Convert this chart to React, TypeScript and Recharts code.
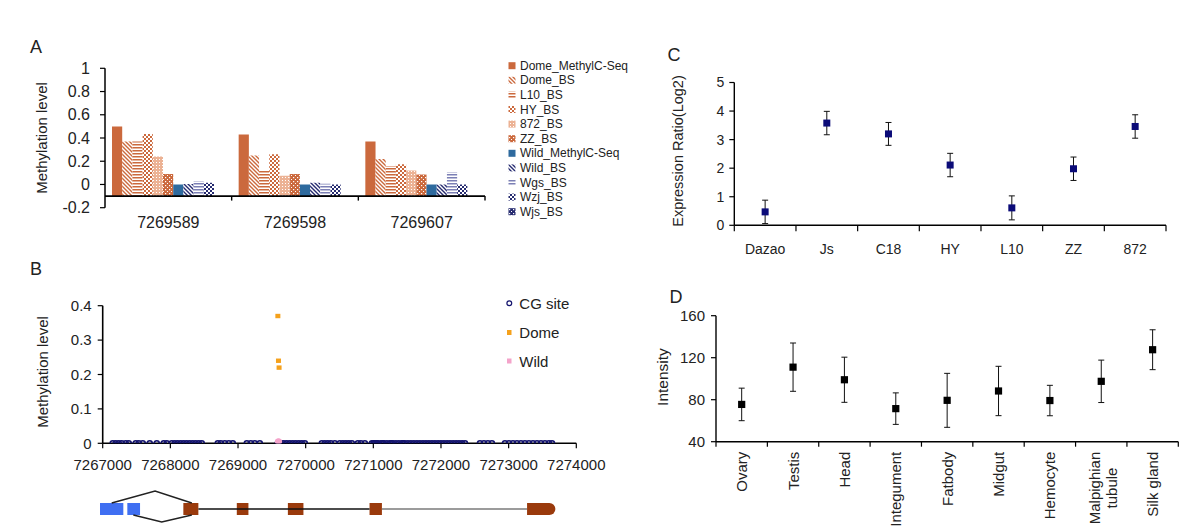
import React from 'react';
import {
  BarChart, Bar, XAxis, YAxis, ReferenceLine, ReferenceArea,
  ScatterChart, Scatter, ComposedChart, Line, ErrorBar,
} from 'recharts';

const FONT = '"Liberation Sans", Arial, Helvetica, sans-serif';
const TXT = '#222';
const ORANGE = '#CB693D';
const BLUE = '#2E6A9E';
const NAVY = '#262B70';
const CG_NAVY = '#14146E';
const BROWN = '#9A3A0C';
const EXON_BLUE = '#3F6FF2';

// ---------------- Panel A ----------------
const sitesA = ['7269589', '7269598', '7269607'];
const seriesNamesA = ['Dome_MethylC-Seq', 'Dome_BS', 'L10_BS', 'HY_BS', '872_BS', 'ZZ_BS', 'Wild_MethylC-Seq', 'Wild_BS', 'Wgs_BS', 'Wzj_BS', 'Wjs_BS'];
const domeMethylC = [0.5, 0.43, 0.37];
const domeBS = [0.37, 0.25, 0.22];
const l10BS = [0.37, 0.12, 0.16];
const hyBS = [0.435, 0.26, 0.175];
const bs872 = [0.24, 0.075, 0.12];
const zzBS = [0.09, 0.09, 0.085];
const wildMethylC = [0, 0, 0];
const wildBS = [0.005, 0.015, 0];
const wgsBS = [0.028, 0.006, 0.105];
const wzjBS = [0.014, 0, 0];
const wjsBS: (number | null)[] = [null, null, null];
const seriesValuesA = [domeMethylC, domeBS, l10BS, hyBS, bs872, zzBS, wildMethylC, wildBS, wgsBS, wzjBS, wjsBS];
const fillsA = [ORANGE, 'url(#pDomeBS)', 'url(#pL10)', 'url(#pHY)', 'url(#p872)', 'url(#pZZ)', BLUE, 'url(#pWildBS)', 'url(#pWgs)', 'url(#pWzj)', 'url(#pWjs)'];
const yTicksA = [-0.2, 0, 0.2, 0.4, 0.6, 0.8, 1];
const AXIS_CROSS_A = -0.1;
const rowsA = sitesA.map((site, i) => {
  const row: any = { site };
  seriesValuesA.forEach((vals, s) => { row['s' + s] = vals[i]; });
  return row;
});

// ---------------- Panel B ----------------
const cgSites = [
  7267148, 7267192, 7267237, 7267281, 7267340, 7267385,
  7267488, 7267533, 7267592,
  7267695, 7267799,
  7267902, 7267947,
  7268021, 7268065, 7268109, 7268154, 7268198, 7268242, 7268287, 7268331, 7268375, 7268420, 7268464,
  7268701, 7268745, 7268805, 7268864, 7268923,
  7269130, 7269189, 7269248, 7269322,
  7269589, 7269598, 7269607,
  7269633, 7269677, 7269721, 7269766, 7269810, 7269854, 7269899, 7269943, 7269988,
  7270239, 7270283, 7270328, 7270372, 7270431,
  7270505, 7270550, 7270594, 7270638, 7270683,
  7270771, 7270816, 7270875,
  7270979, 7271005, 7271023, 7271050, 7271068, 7271112, 7271140, 7271156, 7271201, 7271245,
  7271270, 7271290, 7271334, 7271378, 7271423, 7271440, 7271467, 7271512, 7271556, 7271600,
  7271645, 7271689, 7271734, 7271778, 7271822, 7271867, 7271911, 7271956, 7272000, 7272044,
  7272089, 7272133, 7272178, 7272222, 7272266, 7272311, 7272355,
  7272576, 7272635, 7272694, 7272753,
  7272946, 7273005, 7273064, 7273123, 7273182, 7273241, 7273300, 7273360, 7273419, 7273478,
  7273537, 7273596, 7273641,
];
const methSites = [7269589, 7269598, 7269607];
const domeLevels = [0.37, 0.24, 0.22];
const wildLevels = [0.005, 0.005, 0.005];
const ticksB = [7267000, 7268000, 7269000, 7270000, 7271000, 7272000, 7273000, 7274000];
const yTicksB = [0, 0.1, 0.2, 0.3, 0.4];

// gene model (genomic coordinates, track levels)
const exonStarts = [7266960, 7267364, 7268192, 7268982, 7269737, 7270944, 7273272];
const exonEnds = [7267305, 7267552, 7268414, 7269154, 7269967, 7271127, 7273691];
const exonColors = [EXON_BLUE, EXON_BLUE, BROWN, BROWN, BROWN, BROWN, BROWN];
const EXON_LOW = 10;
const EXON_HIGH = 22;
const EXON_MID = 16;
const caretPts = [{ x: 7267133, y: 22 }, { x: 7267774, y: 34 }, { x: 7268317, y: 22 }];
const veePts = [{ x: 7267453, y: 10 }, { x: 7267873, y: 3 }, { x: 7268317, y: 10 }];

// ---------------- Panel C ----------------
const strainsC = ['Dazao', 'Js', 'C18', 'HY', 'L10', 'ZZ', '872'];
const exprC = [0.47, 3.58, 3.2, 2.11, 0.61, 1.98, 3.46];
const exprErrC = [0.41, 0.41, 0.4, 0.41, 0.42, 0.41, 0.41];
const rowsC = strainsC.map((name, i) => ({ name, pos: i + 0.5, value: exprC[i], err: exprErrC[i] }));

// ---------------- Panel D ----------------
const tissuesD = ['Ovary', 'Testis', 'Head', 'Integument', 'Fatbody', 'Midgut', 'Hemocyte', 'Malpighian tubule', 'Silk gland'];
const intensityD = [75.5, 111, 99, 71.5, 79.4, 88.3, 79.2, 97.5, 127.6];
const intensityErrD = [15.5, 23, 21.5, 15, 25.7, 23.5, 14.5, 20.2, 19];
const rowsD = tissuesD.map((name, i) => ({ name, pos: i + 0.5, value: intensityD[i], err: intensityErrD[i] }));

// ---------------- geometry ----------------
const A = { l: 105, r: 485, t: 68.3, b: 207.7 };
const B = { l: 102.7, r: 576.3, t: 305.7, b: 443.3 };
const G = { t: 485, b: 525 };
const C = { l: 734.3, r: 1166, t: 82.5, b: 225.3 };
const D = { l: 716, r: 1178.3, t: 315.7, b: 441.7 };
const W = 1200;
const H = 529;
const bandA = (A.r - A.l) / sitesA.length;
const bandC = (C.r - C.l) / strainsC.length;
const bandD = (D.r - D.l) / tissuesD.length;
const crossPxA = A.b - ((AXIS_CROSS_A - yTicksA[0]) / (yTicksA[yTicksA.length - 1] - yTicksA[0])) * (A.b - A.t);

function measureText(text: string, font: string): number {
  try {
    const ctx = document.createElement('canvas').getContext('2d');
    if (ctx) { ctx.font = font; return ctx.measureText(text).width; }
  } catch (e) { /* ignore */ }
  return text.length * 8;
}

function ATick(props: any) {
  const { x, y, payload } = props;
  const bx = x + bandA / 2;
  return (
    <g>
      <line x1={bx} x2={bx} y1={crossPxA} y2={crossPxA + 4.5} stroke="#000" strokeWidth={1.4} />
      <text x={x} y={y} dy="0.71em" textAnchor="middle" fontSize={16} fill={TXT} fontFamily={FONT}>{payload.value}</text>
    </g>
  );
}

function CTick(props: any) {
  const { x, y, payload } = props;
  const i = payload.value;
  if (i >= strainsC.length) return <g />;
  return (
    <text x={x + bandC / 2} y={y} dy="0.71em" textAnchor="middle" fontSize={14} fill={TXT} fontFamily={FONT}>
      {strainsC[i]}
    </text>
  );
}

function DTick(props: any) {
  const { x, y, payload } = props;
  const i = payload.value;
  if (i >= tissuesD.length) return <g />;
  const cx = x + bandD / 2;
  const label = tissuesD[i];
  const fs = 15;
  if (label.length > 12) {
    const parts = label.split(' ');
    const w = measureText(parts[0], `${fs}px ${FONT}`);
    return (
      <g>
        <text x={cx - 6.5} y={y} transform={`rotate(-90, ${cx - 6.5}, ${y})`} textAnchor="end" dominantBaseline="central" fontSize={fs} fill={TXT} fontFamily={FONT}>{parts[0]}</text>
        <text x={cx + 10.5} y={y + w / 2} transform={`rotate(-90, ${cx + 10.5}, ${y + w / 2})`} textAnchor="middle" dominantBaseline="central" fontSize={fs} fill={TXT} fontFamily={FONT}>{parts.slice(1).join(' ')}</text>
      </g>
    );
  }
  return (
    <text x={cx} y={y} transform={`rotate(-90, ${cx}, ${y})`} textAnchor="end" dominantBaseline="central" fontSize={fs} fill={TXT} fontFamily={FONT}>{label}</text>
  );
}

function PatternDefs() {
  return (
    <defs>
      <pattern id="pDomeBS" patternUnits="userSpaceOnUse" width={4} height={4}>
        <rect width={4} height={4} fill="#fff" />
        <path d="M0,0 L4,4 M-1,3 L1,5 M3,-1 L5,1" stroke={ORANGE} strokeWidth={1.4} />
      </pattern>
      <pattern id="pL10" patternUnits="userSpaceOnUse" width={3} height={3}>
        <rect width={3} height={3} fill="#fff" />
        <rect width={3} height={1.5} fill={ORANGE} />
      </pattern>
      <pattern id="pHY" patternUnits="userSpaceOnUse" width={4} height={4}>
        <rect width={4} height={4} fill={ORANGE} />
        <rect x={0} y={0} width={2} height={2} fill="#fff" />
        <rect x={2} y={2} width={2} height={2} fill="#fff" />
      </pattern>
      <pattern id="p872" patternUnits="userSpaceOnUse" width={3} height={3}>
        <rect width={3} height={3} fill="#ECB294" />
        <rect x={0} y={0} width={1} height={1} fill="#fff" />
      </pattern>
      <pattern id="pZZ" patternUnits="userSpaceOnUse" width={4} height={4}>
        <rect width={4} height={4} fill={ORANGE} />
        <rect x={1} y={1} width={1.2} height={1.2} fill="#fff" />
        <rect x={3} y={3} width={1.2} height={1.2} fill="#fff" />
      </pattern>
      <pattern id="pWildBS" patternUnits="userSpaceOnUse" width={4} height={4}>
        <rect width={4} height={4} fill="#fff" />
        <path d="M0,0 L4,4 M-1,3 L1,5 M3,-1 L5,1" stroke={NAVY} strokeWidth={1.4} />
      </pattern>
      <pattern id="pWgs" patternUnits="userSpaceOnUse" width={3} height={3}>
        <rect width={3} height={3} fill="#fff" />
        <rect width={3} height={1.5} fill="#7B7FB5" />
      </pattern>
      <pattern id="pWzj" patternUnits="userSpaceOnUse" width={4} height={4}>
        <rect width={4} height={4} fill="#fff" />
        <rect x={0} y={0} width={2} height={2} fill={NAVY} />
        <rect x={2} y={2} width={2} height={2} fill={NAVY} />
      </pattern>
      <pattern id="pWjs" patternUnits="userSpaceOnUse" width={4} height={4}>
        <rect width={4} height={4} fill={NAVY} />
        <rect x={1} y={1} width={1.2} height={1.2} fill="#fff" />
        <rect x={3} y={3} width={1.2} height={1.2} fill="#fff" />
      </pattern>
    </defs>
  );
}

const layer: React.CSSProperties = { position: 'absolute', left: 0, top: 0 };

function PanelA() {
  return (
    <div style={layer}>
      <BarChart width={W} height={H} data={rowsA} barGap={0} barSize={10.2}
        margin={{ top: A.t, right: W - A.r, bottom: H - A.b - 30, left: A.l - 60 }}
        style={{ fontFamily: FONT }}>
        <XAxis dataKey="site" axisLine={false} tickLine={false} tickSize={0} tickMargin={9} height={30} interval={0}
          tick={<ATick />} />
        <YAxis type="number" domain={[yTicksA[0], yTicksA[yTicksA.length - 1]]} ticks={yTicksA} width={60} tickSize={5} tickMargin={10}
          axisLine={{ stroke: '#000', strokeWidth: 1.5 }} tickLine={{ stroke: '#000', strokeWidth: 1.2 }}
          tick={{ fontSize: 16, fill: TXT, fontFamily: FONT }} interval={0} allowDataOverflow />
        {seriesValuesA.map((_, s) => (
          <Bar key={s} name={seriesNamesA[s]} fill={fillsA[s]} isAnimationActive={false}
            dataKey={(d: any) => (d['s' + s] == null ? null : [AXIS_CROSS_A, d['s' + s]])} />
        ))}
        <ReferenceLine y={AXIS_CROSS_A} stroke="#000" strokeWidth={1.6} />
      </BarChart>
    </div>
  );
}

const cgRows = cgSites.map((x) => ({ x, y: 0 }));
const domeRows = methSites.map((x, i) => ({ x, y: domeLevels[i] }));
const wildRows = methSites.map((x, i) => ({ x, y: wildLevels[i] }));

function PanelB() {
  return (
    <div style={layer}>
      <ScatterChart width={W} height={H}
        margin={{ top: B.t, right: W - B.r, bottom: H - B.b - 30, left: B.l - 60 }}
        style={{ fontFamily: FONT }}>
        <XAxis type="number" dataKey="x" domain={[ticksB[0], ticksB[ticksB.length - 1]]} ticks={ticksB} interval={0}
          height={30} tickSize={5} tickMargin={11} allowDataOverflow
          axisLine={{ stroke: '#000', strokeWidth: 1.6 }} tickLine={{ stroke: '#000', strokeWidth: 1.2 }}
          tick={{ fontSize: 15, fill: TXT, fontFamily: FONT }} />
        <YAxis type="number" dataKey="y" domain={[0, 0.4]} ticks={yTicksB} interval={0} width={60}
          tickSize={5} tickMargin={6} allowDataOverflow
          axisLine={{ stroke: '#000', strokeWidth: 1.6 }} tickLine={{ stroke: '#000', strokeWidth: 1.2 }}
          tick={{ fontSize: 15, fill: TXT, fontFamily: FONT }} />
        <Scatter data={cgRows} isAnimationActive={false}
          shape={(p: any) => <circle cx={p.cx} cy={p.cy} r={2.5} fill="none" stroke={CG_NAVY} strokeWidth={1.6} />} />
        <Scatter data={domeRows} isAnimationActive={false}
          shape={(p: any) => <rect x={p.cx - 2.5} y={p.cy - 2.2} width={5} height={4.4} fill="#F5A11C" />} />
        <Scatter data={wildRows} isAnimationActive={false}
          shape={(p: any) => <circle cx={p.cx} cy={p.cy} r={3} fill="#F4A3CA" />} />
      </ScatterChart>
    </div>
  );
}

const exonRows = exonStarts.map((x) => ({ x, y: EXON_MID }));

function roundedEnd(color: string) {
  return (p: any) => {
    const { x, y, width, height } = p;
    const r = height / 2;
    return (
      <path d={`M${x},${y} H${x + width - r} A${r},${r} 0 0 1 ${x + width - r},${y + height} H${x} Z`} fill={color} />
    );
  };
}

const noShape = () => <g />;

function GeneModel() {
  const last = exonStarts.length - 1;
  return (
    <div style={layer}>
      <ComposedChart width={W} height={H} data={exonRows}
        margin={{ top: G.t, right: W - B.r, bottom: H - G.b, left: B.l }}>
        <XAxis type="number" dataKey="x" domain={[ticksB[0], ticksB[ticksB.length - 1]]} hide allowDataOverflow />
        <YAxis type="number" dataKey="y" domain={[0, 40]} hide allowDataOverflow />
        <Scatter dataKey="y" isAnimationActive={false} shape={noShape} />
        <ReferenceLine segment={[{ x: exonEnds[2], y: EXON_MID }, { x: exonStarts[5], y: EXON_MID }]}
          stroke="#111" strokeWidth={1.4} ifOverflow="visible" />
        <ReferenceLine segment={[{ x: exonEnds[5], y: EXON_MID }, { x: exonStarts[6], y: EXON_MID }]}
          stroke="#7a7a7a" strokeWidth={1.4} ifOverflow="visible" />
        <Scatter data={caretPts} dataKey="y" isAnimationActive={false} shape={noShape}
          line={{ stroke: '#222', strokeWidth: 1.6 }} lineJointType="linear" />
        <Scatter data={veePts} dataKey="y" isAnimationActive={false} shape={noShape}
          line={{ stroke: '#222', strokeWidth: 1.6 }} lineJointType="linear" />
        {exonStarts.map((s, i) => (
          <ReferenceArea key={i} x1={s} x2={exonEnds[i]} y1={EXON_LOW} y2={EXON_HIGH}
            fill={exonColors[i]} fillOpacity={1} stroke="none" ifOverflow="visible"
            shape={i === last ? roundedEnd(exonColors[i]) : undefined} />
        ))}
      </ComposedChart>
    </div>
  );
}

function PanelC() {
  return (
    <div style={layer}>
      <ComposedChart width={W} height={H} data={rowsC}
        margin={{ top: C.t, right: W - C.r, bottom: H - C.b - 30, left: C.l - 60 }}>
        <XAxis type="number" dataKey="pos" domain={[0, strainsC.length]} ticks={strainsC.map((_, i) => i).concat([strainsC.length])}
          interval={0} height={30} tickSize={6} tickMargin={13} tick={<CTick />}
          axisLine={{ stroke: '#000', strokeWidth: 1.4 }} tickLine={{ stroke: '#000', strokeWidth: 1.2 }} />
        <YAxis type="number" domain={[0, 5]} ticks={[0, 1, 2, 3, 4, 5]} interval={0} width={60}
          tickSize={5} tickMargin={5}
          axisLine={{ stroke: '#000', strokeWidth: 1.4 }} tickLine={{ stroke: '#000', strokeWidth: 1.2 }}
          tick={{ fontSize: 14, fill: TXT, fontFamily: FONT }} />
        <Line dataKey="value" stroke="none" isAnimationActive={false} activeDot={false}
          dot={(p: any) => <rect key={p.index} x={p.cx - 3.5} y={p.cy - 3.5} width={7} height={7} fill="#0B0B78" />}>
          <ErrorBar dataKey="err" width={3} stroke="#111" strokeWidth={1} direction="y" isAnimationActive={false} />
        </Line>
      </ComposedChart>
    </div>
  );
}

function PanelD() {
  return (
    <div style={layer}>
      <ComposedChart width={W} height={H} data={rowsD}
        margin={{ top: D.t, right: W - D.r, bottom: H - D.b - 30, left: D.l - 60 }}>
        <XAxis type="number" dataKey="pos" domain={[0, tissuesD.length]} ticks={tissuesD.map((_, i) => i).concat([tissuesD.length])}
          interval={0} height={30} tickSize={5} tickMargin={5} tick={<DTick />}
          axisLine={{ stroke: '#000', strokeWidth: 1.4 }} tickLine={{ stroke: '#000', strokeWidth: 1.2 }} />
        <YAxis type="number" domain={[40, 160]} ticks={[40, 80, 120, 160]} interval={0} width={60}
          tickSize={5} tickMargin={6}
          axisLine={{ stroke: '#000', strokeWidth: 1.4 }} tickLine={{ stroke: '#000', strokeWidth: 1.2 }}
          tick={{ fontSize: 15, fill: TXT, fontFamily: FONT }} />
        <Line dataKey="value" stroke="none" isAnimationActive={false} activeDot={false}
          dot={(p: any) => <rect key={p.index} x={p.cx - 3.6} y={p.cy - 3.6} width={7.2} height={7.2} fill="#000" />}>
          <ErrorBar dataKey="err" width={3} stroke="#111" strokeWidth={1} direction="y" isAnimationActive={false} />
        </Line>
      </ComposedChart>
    </div>
  );
}

function Overlay() {
  const t = { fontFamily: FONT, fill: TXT } as any;
  return (
    <svg width={W} height={H} style={{ ...layer, pointerEvents: 'none' }}>
      <PatternDefs />
      {/* panel letters */}
      <text x={36} y={47} fontSize={18} textAnchor="middle" dominantBaseline="central" {...t}>A</text>
      <text x={36} y={269} fontSize={18} textAnchor="middle" dominantBaseline="central" {...t}>B</text>
      <text x={674} y={55} fontSize={18} textAnchor="middle" dominantBaseline="central" {...t}>C</text>
      <text x={676} y={297} fontSize={18} textAnchor="middle" dominantBaseline="central" {...t}>D</text>
      {/* axis titles */}
      <text x={41.5} y={138} fontSize={15} textAnchor="middle" dominantBaseline="central" transform="rotate(-90, 41.5, 138)" {...t}>Methylation level</text>
      <text x={42} y={372} fontSize={15} textAnchor="middle" dominantBaseline="central" transform="rotate(-90, 42, 372)" {...t}>Methylation level</text>
      <text x={678} y={151} fontSize={14.5} textAnchor="middle" dominantBaseline="central" transform="rotate(-90, 678, 151)" {...t}>Expression Ratio(Log2)</text>
      <text x={662} y={377} fontSize={15.5} textAnchor="middle" dominantBaseline="central" transform="rotate(-90, 662, 377)" {...t}>Intensity</text>
      {/* legend A */}
      {seriesNamesA.map((name, i) => {
        const cy = 65.7 + i * 14.6;
        return (
          <g key={name}>
            <rect x={508.5} y={cy - 3.5} width={7} height={7} fill={fillsA[i]} />
            <text x={520} y={cy} fontSize={12} dominantBaseline="central" {...t}>{name}</text>
          </g>
        );
      })}
      {/* legend B */}
      <circle cx={509.3} cy={303.3} r={2.4} fill="none" stroke={CG_NAVY} strokeWidth={1.2} />
      <text x={519.3} y={303.3} fontSize={15} dominantBaseline="central" {...t}>CG site</text>
      <rect x={507} y={330} width={4.5} height={5} fill="#F5A11C" />
      <text x={519.3} y={332.3} fontSize={15} dominantBaseline="central" {...t}>Dome</text>
      <rect x={507} y={358.5} width={4.5} height={5} fill="#F4A3CA" />
      <text x={519.3} y={361} fontSize={15} dominantBaseline="central" {...t}>Wild</text>
    </svg>
  );
}

export default function App() {
  return (
    <div style={{ position: 'absolute', left: 0, top: 0, width: W, height: H, background: '#fff', overflow: 'hidden' }}>
      <PanelA />
      <PanelB />
      <GeneModel />
      <PanelC />
      <PanelD />
      <Overlay />
    </div>
  );
}
